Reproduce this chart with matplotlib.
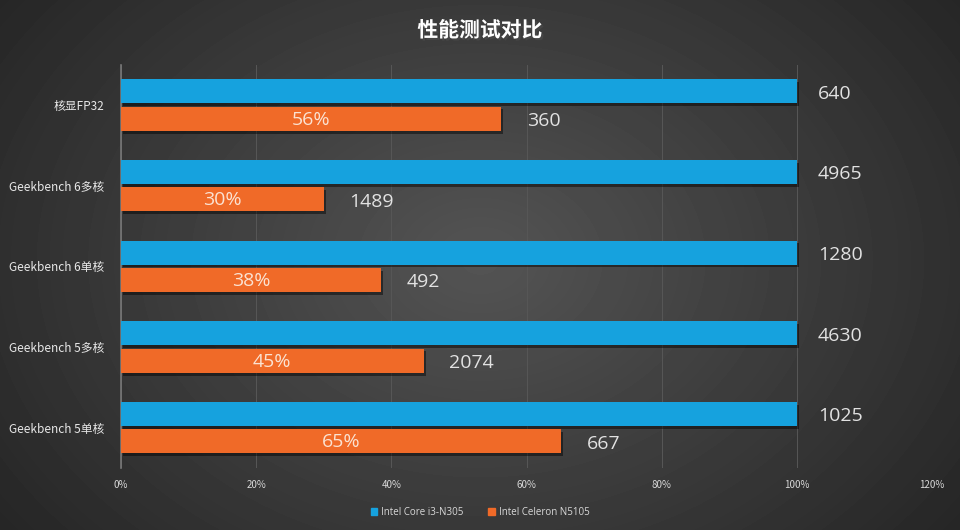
import numpy as np
import matplotlib.pyplot as plt
import matplotlib.patheffects as pe
from matplotlib.patches import Patch

## 数据
categories = ['核显FP32', 'Geekbench 6多核', 'Geekbench 6单核', 'Geekbench 5多核', 'Geekbench 5单核']
n305 = [640, 4965, 1280, 4630, 1025]
n5105 = [360, 1489, 492, 2074, 667]
series_names = ['Intel Core i3-N305', 'Intel Celeron N5105']
xticks = [0, 20, 40, 60, 80, 100, 120]

plt.rcParams['font.family'] = ['Noto Sans CJK SC', 'DejaVu Sans']

blue = '#16a2de'
orange = '#f06a28'
numfont = ['Open Sans', 'DejaVu Sans']

fig = plt.figure(figsize=(9.6, 5.3), dpi=100)

# 背景: 径向渐变
bg = fig.add_axes([0, 0, 1, 1])
yy, xx = np.mgrid[0:530, 0:960]
r = np.sqrt(((xx - 480) / 560.0) ** 2 + ((yy - 260) / 420.0) ** 2)
shade = np.clip(0.33 - 0.17 * r, 0.15, 0.33)
bg.imshow(shade, cmap='gray', vmin=0, vmax=1, aspect='auto', extent=[0, 1, 0, 1])
bg.axis('off')

ax = fig.add_axes([0.126, 0.117, 0.845, 0.761])
ax.patch.set_alpha(0)

pct_blue = [100.0] * len(categories)
pct_orange = [o / b * 100 for o, b in zip(n5105, n305)]
y = np.arange(len(categories))
h = 0.3
off = 0.17

shadow = [pe.SimplePatchShadow(offset=(1.5, -2), shadow_rgbFace='black', alpha=0.45), pe.Normal()]
bb = ax.barh(y - off, pct_blue, height=h, color=blue, zorder=3)
ob = ax.barh(y + off, pct_orange, height=h, color=orange, zorder=3)
for p in list(bb) + list(ob):
    p.set_path_effects(shadow)

for i in range(len(categories)):
    ax.text(pct_blue[i] + 3.1, y[i] - off + 0.03, str(n305[i]), va='center', ha='left',
            fontsize=14, color='#e2e2e2', family=numfont, zorder=4)
    ax.text(pct_orange[i] + 3.8, y[i] + off + 0.03, str(n5105[i]), va='center', ha='left',
            fontsize=14, color='#e2e2e2', family=numfont, zorder=4)
    ax.text(pct_orange[i] / 2, y[i] + off + 0.01, '%d%%' % round(pct_orange[i]), va='center', ha='center',
            fontsize=14, color='#fbe2d2', family=numfont, zorder=4)

ax.set_xlim(0, 120)
ax.set_ylim(len(categories) - 0.5, -0.5)
ax.set_xticks(xticks)
ax.set_xticklabels(['%d%%' % t for t in xticks], fontsize=7, color='#d8d8d8')
ax.set_yticks(y)
ax.set_yticklabels(categories, fontsize=8.5, color='#e8e8e8')
ax.tick_params(length=0, pad=9)
ax.tick_params(axis='y', pad=12)
ax.grid(axis='x', color='#575757', linewidth=0.7, zorder=0)
for s in ['top', 'right', 'bottom']:
    ax.spines[s].set_visible(False)
ax.spines['left'].set_color('#777777')
ax.spines['left'].set_linewidth(1.2)

fig.text(0.5, 0.943, '性能测试对比', ha='center', va='center', fontsize=15, fontweight='bold',
         color='white', path_effects=[pe.withSimplePatchShadow(offset=(1.5, -1.5), alpha=0.6)])

handles = [Patch(color=blue), Patch(color=orange)]
fig.legend(handles, series_names, loc='center', bbox_to_anchor=(0.5, 0.033), ncol=2, frameon=False,
           labelcolor='#d8d8d8', handlelength=0.7, handleheight=0.7, handletextpad=0.4,
           columnspacing=2.5, prop={'family': ['Open Sans', 'DejaVu Sans'], 'size': 7})

fig.savefig('out.png', dpi=100)
